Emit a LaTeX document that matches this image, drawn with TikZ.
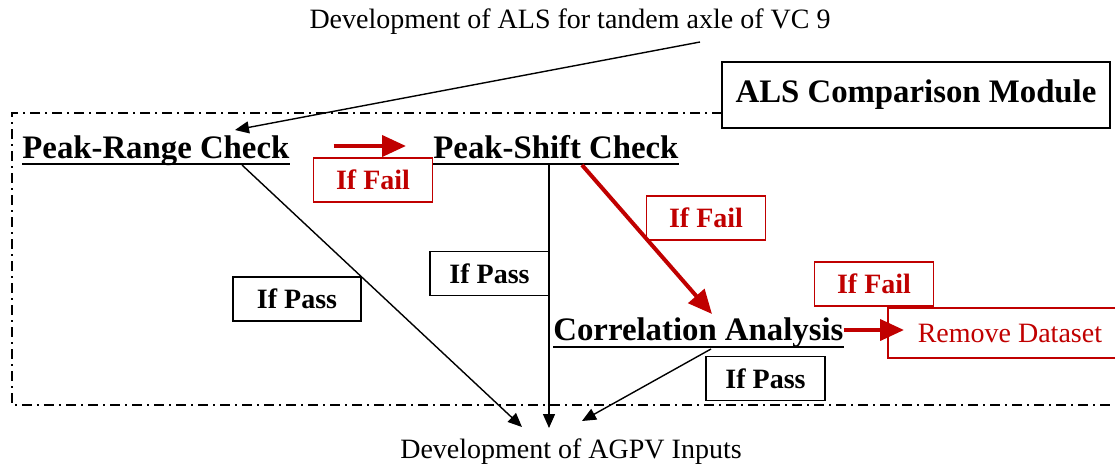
\documentclass[tikz,border=0pt]{standalone}
\usepackage{fontspec}
\setmainfont{Liberation Serif}
\usetikzlibrary{arrows.meta,calc}
\definecolor{failred}{RGB}{192,0,0}
\tikzset{
  heading/.style={font=\bfseries\fontsize{16.4}{19}\selectfont, inner sep=0pt, anchor=base west},
  plain/.style={font=\fontsize{14}{17}\selectfont, inner sep=0pt},
  passbox/.style={draw, line width=0.75pt, font=\bfseries\fontsize{14}{17}\selectfont,
    minimum width=59.5pt, minimum height=22pt, inner sep=0pt},
  failbox/.style={passbox, draw=failred, text=failred},
  passline/.style={line width=0.7pt, -{Triangle[length=7pt,width=6pt]}},
  failline/.style={line width=2pt, draw=failred, -{Triangle[length=12pt,width=10.5pt]}},
  underl/.style={line width=1.3pt},
  modframe/.style={line width=1pt, dash pattern=on 5pt off 2.5pt on 1pt off 2.5pt}
}
\begin{document}
\begin{tikzpicture}[x=0.5pt,y=-0.5pt]
    \useasboundingbox (0,0) rectangle (1115,466);

    % Draw the dash-dot frame of the module
    \draw[modframe] (722,113) -- (12,113) -- (12,405) -- (1118,405);
    \node[draw, line width=1pt, fill=white, font=\bfseries\fontsize{16.4}{19}\selectfont,
      minimum width=194pt, minimum height=33pt, inner sep=0pt] (module) at (916,95) {ALS Comparison Module};

    % Input and output texts
    \node[plain] (als) at (570,22) {Development of ALS for tandem axle of VC 9};
    \node[plain] (agpv) at (571,452) {Development of AGPV Inputs};

    % The three checks
    \node[heading] (prc) at (22,158) {Peak-Range Check};
    \node[heading] (psc) at (433,158) {Peak-Shift Check};
    \node[heading] (ca) at (553,340) {Correlation Analysis};
    \draw[underl] ([yshift=-3pt]prc.base west) -- ([yshift=-3pt]prc.base east);
    \draw[underl] ([yshift=-3pt]psc.base west) -- ([yshift=-3pt]psc.base east);
    \draw[underl] ([yshift=-3.5pt]ca.base west) -- ([yshift=-3.5pt]ca.base east);

    % Remove box, cut by the right edge
    \node[draw=failred, line width=0.75pt, text=failred, font=\fontsize{14}{17}\selectfont,
      anchor=west, inner xsep=15pt, minimum height=25pt] (rd) at (887,333) {Remove Dataset};

    % Labels
    \node[failbox] (fail1) at (373,180) {If Fail};
    \node[failbox] (fail2) at (706,218) {If Fail};
    \node[failbox] (fail3) at (874,284) {If Fail};
    \node[passbox, minimum width=64pt] (pass1) at (297,299) {If Pass};
    \node[passbox] (pass2) at (489.5,273.5) {If Pass};
    \node[passbox] (pass3) at (765.5,378.5) {If Pass};

    % End points
    \coordinate (alsS) at (700,42);
    \coordinate (prcT) at (235,130);
    \coordinate (prcS) at (242,165);
    \coordinate (pscS) at (549,165);
    \coordinate (pscF) at (582,165);
    \coordinate (caT) at (712,314);
    \coordinate (caS) at (711,349);
    \coordinate (in1) at (522,427);
    \coordinate (in2) at (549,428);
    \coordinate (in3) at (582,421);

    % Connectors
    \draw[passline] (alsS) -- (prcT);
    \draw[passline] (prcS) -- (in1);
    \draw[passline] (pscS) -- (in2);
    \draw[passline] (caS) -- (in3);
    \draw[failline] ($(prc.base east)+(44,-12)$) -- ($(psc.base west)+(-27,-12)$);
    \draw[failline] (pscF) -- (caT);
    \draw[failline] ($(ca.base east)+(0,-10)$) -- ($(rd.west)+(17,-3)$);
\end{tikzpicture}
\end{document}
